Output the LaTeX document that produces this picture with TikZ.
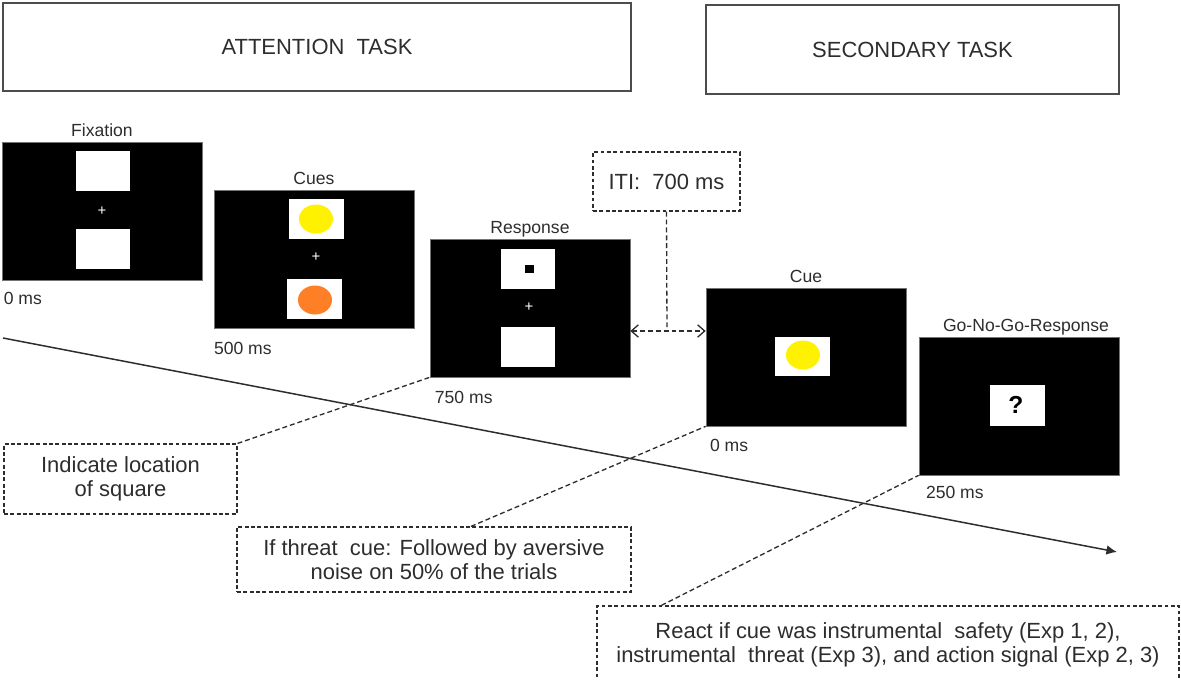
\documentclass[tikz,border=0pt]{standalone}
\usepackage{fontspec}
\setmainfont{Liberation Sans}
\usetikzlibrary{positioning,shapes.geometric,arrows.meta}
\definecolor{cueyellow}{RGB}{255,242,0}
\definecolor{cueorange}{RGB}{255,127,39}
\definecolor{inkgray}{RGB}{45,45,45}
\tikzset{
  taskbox/.style={draw=black!70, line width=1.1pt, inner sep=0pt, text=inkgray,
    font=\fontsize{12.5}{14}\selectfont},
  screen/.style={fill=black, draw=black!55, line width=0.4pt, inner sep=0pt,
    minimum width=4cm, minimum height=2.76cm},
  scrtitle/.style={font=\fontsize{10}{12}\selectfont, text=inkgray, inner sep=0pt,
    text depth=0pt, label distance=3pt},
  panel/.style={fill=white, inner sep=0pt, minimum width=1.1cm, minimum height=0.8cm},
  cuedot/.style={ellipse, inner sep=0pt, minimum width=0.68cm, minimum height=0.58cm},
  crossmark/.style={text=white, inner sep=0pt, font=\fontsize{8.5}{8.5}\selectfont},
  timelab/.style={font=\fontsize{10}{12}\selectfont, text=inkgray, inner sep=0pt},
  notebox/.style={draw=inkgray, line width=0.7pt, dash pattern=on 2.2pt off 1.4pt,
    inner sep=0pt, align=center, text=inkgray, font=\fontsize{12.5}{13.5}\selectfont},
  link/.style={draw=inkgray, line width=0.75pt, dash pattern=on 2.8pt off 1.7pt},
  barb/.style={{Straight Barb[length=4pt,width=7pt]}-{Straight Barb[length=4pt,width=7pt]}},
  timeline/.style={draw=inkgray, line width=0.85pt, -{Latex[length=6pt,width=5.5pt]}}
}
\begin{document}
\begin{tikzpicture}[x=0.02cm, y=-0.02cm]
  \useasboundingbox (0,0) rectangle (1181,680);
  % time axis
  \coordinate (tstart) at (3,338);
  \coordinate (tend) at (1117,552);
  \draw[timeline] (tstart) -- (tend);
  % task headers
  \node[taskbox, minimum width=12.56cm, minimum height=1.76cm] (att) at (317,47) {ATTENTION\ \ TASK};
  \node[taskbox, minimum width=8.26cm, minimum height=1.78cm] (sec) at (912.5,49.5) {SECONDARY TASK};
  % screens
  \node[screen, label={[scrtitle]above:Fixation}] (fix) at (102,211) {};
  \node[screen, label={[scrtitle]above:Cues}] (cues) at (314,259.5) {};
  \node[screen, label={[scrtitle]above:Response}] (resp) at (530,308) {};
  \node[screen, label={[scrtitle]above:Cue}] (cue) at (806,357) {};
  \node[screen, label={[scrtitle, xshift=4pt]above:Go-No-Go-Response}] (gng) at (1019,406) {};
  % fixation
  \node[panel] (fixup) at (103,171) {};
  \node[panel] (fixlow) at (103,249) {};
  \node[crossmark] (fixcross) at (102,211) {+};
  % cues
  \node[panel] (cuesup) at (316.5,219) {};
  \node[cuedot, fill=cueyellow] (cuesyel) at (316,219) {};
  \node[panel] (cueslow) at (314.5,298.5) {};
  \node[cuedot, fill=cueorange] (cuesorg) at (315,300) {};
  \node[crossmark] (cuescross) at (316,257) {+};
  % response
  \node[panel] (respup) at (528,268.5) {};
  \node[fill=black, inner sep=0pt, minimum width=0.18cm, minimum height=0.16cm] (probe) at (529,269) {};
  \node[panel] (resplow) at (528,347) {};
  \node[crossmark] (respcross) at (529,307) {+};
  % secondary task
  \node[panel, minimum height=0.78cm] (cuebox) at (802.5,356.5) {};
  \node[cuedot, fill=cueyellow] (cueyel) at (803,355) {};
  \node[panel, minimum height=0.82cm] (gngbox) at (1017,405.5) {};
  \node[inner sep=0pt, font=\fontsize{14}{14}\selectfont\bfseries] (qmark) at (1016,405) {?};
  % times
  \node[timelab, below right=6.6pt and 1pt of fix.south west] (t0) {0 ms};
  \node[timelab, below right=7.7pt and 0pt of cues.south west] (t500) {500 ms};
  \node[timelab, below right=7.7pt and 2.8pt of resp.south west] (t750) {750 ms};
  \node[timelab, below right=7.2pt and 2.3pt of cue.south west] (t0b) {0 ms};
  \node[timelab, below right=6pt and 4pt of gng.south west] (t250) {250 ms};
  % notes
  \node[notebox, minimum width=2.94cm, minimum height=1.18cm] (iti) at (666.5,181.5) {ITI:\ \ 700 ms};
  \node[notebox, minimum width=4.66cm, minimum height=1.4cm] (ind) at (120.5,479) {Indicate location\\of square};
  \node[notebox, minimum width=7.88cm, minimum height=1.3cm] (thr) at (434,559.5) {If threat\ \ cue: Followed by aversive\\noise on 50\% of the trials};
  \node[notebox, minimum width=11.64cm, minimum height=1.56cm] (react) at (888,645) {React if cue was instrumental\ \ safety (Exp 1, 2),\\instrumental\ \ threat (Exp 3), and action signal (Exp 2, 3)};
  % connectors
  \coordinate (itijoin) at (667,331);
  \begin{scope}[link]
    \draw (iti.south) -- (itijoin);
    \draw[barb] (resp.east |- itijoin) -- (cue.west |- itijoin);
    \draw (ind.north east) -- (resp.south west);
    \draw ([xshift=0.74cm]thr.north) -- (cue.south west);
    \draw ([xshift=1.3cm]react.north west) -- (gng.south west);
  \end{scope}
\end{tikzpicture}
\end{document}
